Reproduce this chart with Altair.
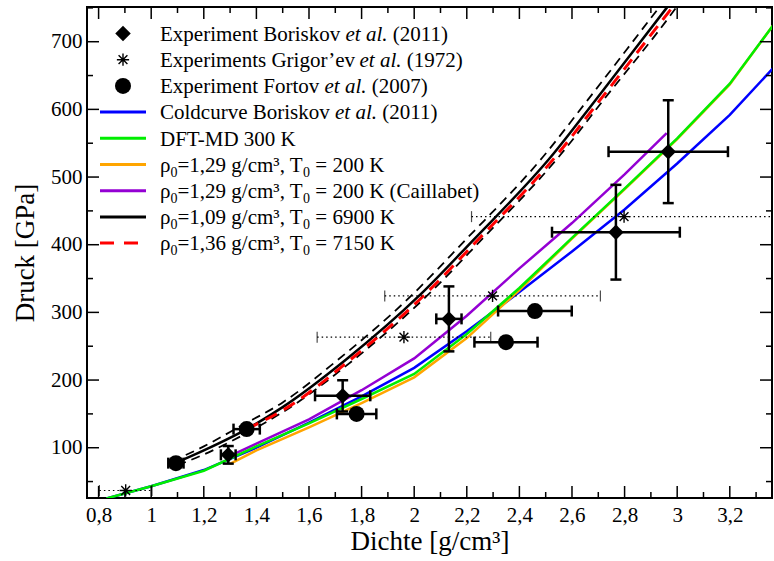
import altair as alt
import pandas as pd

FONT = "Liberation Serif"
W, H = 685, 491
X_DOMAIN = [0.7559, 3.3605]
Y_DOMAIN = [25.7, 751.3]

# ---------------- data ----------------
# Experiment Boriskov et al. (2011)
bor_x = [1.293, 1.728, 2.132, 2.767, 2.966]
bor_y = [89.5, 176.7, 290.4, 418.5, 537.5]
bor_xerr = [0.028, 0.105, 0.048, 0.243, 0.227]
bor_yerr = [13, 23, 48, 70, 76]

# Experiments Grigor'ev et al. (1972)
gri_x = [0.903, 1.961, 2.298, 2.798]
gri_y = [36.8, 263.4, 324.3, 441.5]
gri_xerr = [0.10, 0.33, 0.41, 0.58]

# Experiment Fortov et al. (2007)
fort_x = [1.094, 1.363, 1.781, 2.349, 2.459]
fort_y = [77.2, 127.5, 150.0, 256.0, 302.0]
fort_xerr = [0.029, 0.05, 0.075, 0.12, 0.14]

# Coldcurve Boriskov et al. (2011)
cold_x = [0.83, 1.0, 1.2, 1.4, 1.6, 1.8, 2.0, 2.2, 2.4, 2.6, 2.8, 3.0, 3.2, 3.37]
cold_y = [25, 43, 67, 100, 137, 176, 218, 272, 330, 390, 452, 520, 592, 663]

# DFT-MD 300 K
dft_x = [0.83, 1.0, 1.2, 1.4, 1.6, 1.8, 2.0, 2.2, 2.4, 2.6, 2.8, 3.0, 3.2, 3.37]
dft_y = [25, 43, 66, 102, 136, 172, 209, 268, 336, 410, 483, 557, 638, 727]

# rho0=1.29, T0=200 K
h129_x = [1.30, 1.4, 1.6, 1.8, 2.0, 2.2, 2.4, 2.6, 2.8, 3.0, 3.2, 3.37]
h129_y = [76, 96, 130, 166, 204, 262, 333, 409, 482, 556, 637, 727]

# rho0=1.29, T0=200 K (Caillabet)
cai_x = [1.30, 1.4, 1.6, 1.8, 2.0, 2.2, 2.4, 2.6, 2.8, 2.96]
cai_y = [88, 106, 142, 185, 232, 295, 365, 432, 504, 565]

# rho0=1.09, T0=6900 K (solid) and its two dashed bounds
h109_x = [1.09, 1.2, 1.363, 1.5, 1.74, 2.02, 2.22, 2.52, 2.69, 2.96, 3.02]
h109_y = [77, 96, 127.5, 160, 230, 325, 405, 530, 614, 750, 780]
h109u_x = [1.08, 1.2, 1.34, 1.5, 1.71, 1.99, 2.19, 2.49, 2.66, 2.93, 2.99]
h109u_y = [80, 102, 132, 167, 230, 325, 405, 530, 614, 750, 780]
h109l_x = [1.10, 1.2, 1.39, 1.53, 1.77, 2.05, 2.25, 2.55, 2.72, 2.995, 3.05]
h109l_y = [74, 90, 127.5, 160, 230, 325, 405, 530, 614, 750, 780]

# rho0=1.36, T0=7150 K
h136_x = [1.363, 1.52, 1.757, 2.037, 2.237, 2.537, 2.707, 2.98, 3.04]
h136_y = [127.5, 160, 230, 325, 405, 530, 614, 750, 780]

# ticks
x_major = [0.8, 1.0, 1.2, 1.4, 1.6, 1.8, 2.0, 2.2, 2.4, 2.6, 2.8, 3.0, 3.2]
x_minor = [0.9, 1.1, 1.3, 1.5, 1.7, 1.9, 2.1, 2.3, 2.5, 2.7, 2.9, 3.1, 3.3]
y_major = [100, 200, 300, 400, 500, 600, 700]
y_minor = [50, 150, 250, 350, 450, 550, 650, 750]

# legend texts
leg_exp = ["Experiment Boriskov", "Experiments Grigor\u2019ev", "Experiment Fortov",
           "Coldcurve Boriskov"]
leg_italic = "et al."
leg_year = ["(2011)", "(1972)", "(2007)", "(2011)"]
leg_dft = "DFT-MD 300 K"
leg_rho = ["=1,29 g/cm\u00b3, T", "=1,29 g/cm\u00b3, T", "=1,09 g/cm\u00b3, T", "=1,36 g/cm\u00b3, T"]
leg_temp = ["= 200 K", "= 200 K (Caillabet)", "= 6900 K", "= 7150 K"]

# ---------------- styling ----------------
BLUE, GREEN, ORANGE, PURPLE, RED = "#0000ff", "#00ee00", "#ffa500", "#9400d3", "#ff0000"
STAR = "M0,-1L0,1M-1,0L1,0M-0.72,-0.72L0.72,0.72M-0.72,0.72L0.72,-0.72"

xs = alt.Scale(domain=X_DOMAIN, nice=False, zero=False)
ys = alt.Scale(domain=Y_DOMAIN, nice=False, zero=False)

xaxis = alt.Axis(values=x_major, ticks=False, domain=False, grid=False, labelFlush=False,
                 labelExpr="replace(format(datum.value, '~g'), '.', ',')",
                 labelFont=FONT, labelFontSize=21, labelColor="black", labelPadding=6,
                 title="Dichte [g/cm\u00b3]", titleFont=FONT, titleFontSize=27,
                 titleFontWeight="normal", titleColor="black", titlePadding=3)
yaxis = alt.Axis(values=y_major, ticks=False, domain=False, grid=False, labelFlush=False,
                 labelFont=FONT, labelFontSize=21, labelColor="black", labelPadding=5,
                 title="Druck [GPa]", titleFont=FONT, titleFontSize=27,
                 titleFontWeight="normal", titleColor="black", titlePadding=11)


def X(f):
    return alt.X(f"{f}:Q", scale=xs, axis=xaxis)


def Y(f):
    return alt.Y(f"{f}:Q", scale=ys, axis=yaxis)


def curve(xv, yv, color, dash=None, width=2.5, interp="linear"):
    df = pd.DataFrame({"x": xv, "y": yv, "o": list(range(len(xv)))})
    kw = dict(color=color, strokeWidth=width, clip=True, interpolate=interp)
    if dash:
        kw["strokeDash"] = dash
    return alt.Chart(df).mark_line(**kw).encode(x=X("x"), y=Y("y"), order="o:Q")


layers = [
    curve(cold_x, cold_y, BLUE),
    curve(h129_x, h129_y, ORANGE),
    curve(cai_x, cai_y, PURPLE),
    curve(dft_x, dft_y, GREEN),
    curve(h109u_x, h109u_y, "black", dash=[9, 6], width=1.8, interp="monotone"),
    curve(h109l_x, h109l_y, "black", dash=[9, 6], width=1.8, interp="monotone"),
    curve(h109_x, h109_y, "black", width=2.5, interp="monotone"),
    curve(h136_x, h136_y, RED, dash=[13, 8], width=3, interp="monotone"),
]

# error bars
bor = pd.DataFrame({"x": bor_x, "y": bor_y})
bor["xlo"] = [a - b for a, b in zip(bor_x, bor_xerr)]
bor["xhi"] = [a + b for a, b in zip(bor_x, bor_xerr)]
bor["ylo"] = [a - b for a, b in zip(bor_y, bor_yerr)]
bor["yhi"] = [a + b for a, b in zip(bor_y, bor_yerr)]

fort = pd.DataFrame({"x": fort_x, "y": fort_y})
fort["xlo"] = [a - b for a, b in zip(fort_x, fort_xerr)]
fort["xhi"] = [a + b for a, b in zip(fort_x, fort_xerr)]

gri = pd.DataFrame({"x": gri_x, "y": gri_y})
gri["xlo"] = [a - b for a, b in zip(gri_x, gri_xerr)]
gri["xhi"] = [a + b for a, b in zip(gri_x, gri_xerr)]

EW = 2.5
CAP = 11
# Grigor'ev dotted bars
layers += [
    alt.Chart(gri).mark_rule(color="black", strokeWidth=1.2, strokeDash=[1.5, 3], clip=True)
    .encode(x=X("xlo"), x2="xhi", y=Y("y")),
    alt.Chart(gri).mark_tick(orient="vertical", size=CAP, thickness=1.2, color="black", clip=True)
    .encode(x=X("xlo"), y=Y("y")),
    alt.Chart(gri).mark_tick(orient="vertical", size=CAP, thickness=1.2, color="black", clip=True)
    .encode(x=X("xhi"), y=Y("y")),
]
for df, has_y in [(bor, True), (fort, False)]:
    layers += [
        alt.Chart(df).mark_rule(color="black", strokeWidth=EW).encode(x=X("xlo"), x2="xhi", y=Y("y")),
        alt.Chart(df).mark_tick(orient="vertical", size=CAP, thickness=EW, color="black", opacity=1)
        .encode(x=X("xlo"), y=Y("y")),
        alt.Chart(df).mark_tick(orient="vertical", size=CAP, thickness=EW, color="black", opacity=1)
        .encode(x=X("xhi"), y=Y("y")),
    ]
    if has_y:
        layers += [
            alt.Chart(df).mark_rule(color="black", strokeWidth=EW).encode(x=X("x"), y=Y("ylo"), y2="yhi"),
            alt.Chart(df).mark_tick(orient="horizontal", size=CAP, thickness=EW, color="black", opacity=1)
            .encode(x=X("x"), y=Y("ylo")),
            alt.Chart(df).mark_tick(orient="horizontal", size=CAP, thickness=EW, color="black", opacity=1)
            .encode(x=X("x"), y=Y("yhi")),
        ]

# markers
layers += [
    alt.Chart(bor).mark_point(shape="diamond", filled=True, size=240, color="black", opacity=1)
    .encode(x=X("x"), y=Y("y")),
    alt.Chart(fort).mark_point(shape="circle", filled=True, size=256, color="black", opacity=1)
    .encode(x=X("x"), y=Y("y")),
    alt.Chart(gri).mark_point(shape=STAR, filled=False, size=150, strokeWidth=1.4, color="black", opacity=1)
    .encode(x=X("x"), y=Y("y")),
]

# inward ticks on all four sides
for vals, ln in [(x_major, 12), (x_minor, 6)]:
    d = pd.DataFrame({"v": vals})
    layers += [
        alt.Chart(d).mark_rule(color="black", strokeWidth=1.5).encode(x=X("v"), y=alt.value(H), y2=alt.value(H - ln)),
        alt.Chart(d).mark_rule(color="black", strokeWidth=1.5).encode(x=X("v"), y=alt.value(0), y2=alt.value(ln)),
    ]
for vals, ln in [(y_major, 12), (y_minor, 6)]:
    d = pd.DataFrame({"v": vals})
    layers += [
        alt.Chart(d).mark_rule(color="black", strokeWidth=1.5).encode(y=Y("v"), x=alt.value(0), x2=alt.value(ln)),
        alt.Chart(d).mark_rule(color="black", strokeWidth=1.5).encode(y=Y("v"), x=alt.value(W), x2=alt.value(W - ln)),
    ]

# ---------------- legend (inside, top-left) ----------------
ROW0, DY = 26.5, 26.2
SYM_X, L0, L1, TXT_X = 36, 13, 59, 73
FS, SUB_FS = 21, 14
one = pd.DataFrame({"a": [0]})


def row_y(i):
    return ROW0 + DY * i


def base_y(i):
    return row_y(i) + 7.3


def txt(s, x, y, size=FS, style="normal"):
    return alt.Chart(pd.DataFrame({"t": [s]})).mark_text(
        font=FONT, fontSize=size, fontStyle=style, align="left", baseline="alphabetic",
        color="black").encode(text="t:N", x=alt.value(x), y=alt.value(y))


layers += [
    alt.Chart(one).mark_point(shape="diamond", filled=True, size=240, color="black", opacity=1)
    .encode(x=alt.value(SYM_X), y=alt.value(row_y(0))),
    alt.Chart(one).mark_point(shape=STAR, filled=False, size=150, strokeWidth=1.4, color="black", opacity=1)
    .encode(x=alt.value(SYM_X), y=alt.value(row_y(1))),
    alt.Chart(one).mark_point(shape="circle", filled=True, size=256, color="black", opacity=1)
    .encode(x=alt.value(SYM_X), y=alt.value(row_y(2))),
]
line_styles = [(BLUE, None), (GREEN, None), (ORANGE, None), (PURPLE, None), ("black", None), (RED, [14, 10])]
for k, (col, dash) in enumerate(line_styles):
    kw = dict(color=col, strokeWidth=3)
    if dash:
        kw["strokeDash"] = dash
    layers.append(alt.Chart(one).mark_rule(**kw)
                  .encode(x=alt.value(L0), x2=alt.value(L1), y=alt.value(row_y(3 + k))))

ital_x = [258.5, 272.5, 237.5, 248.0]
tail_x = [305.8, 319.7, 284.7, 295.2]
for i in range(4):
    layers += [
        txt(leg_exp[i], TXT_X, base_y(i)),
        txt(leg_italic, ital_x[i], base_y(i), style="italic"),
        txt(leg_year[i], tail_x[i], base_y(i)),
    ]
layers.append(txt(leg_dft, TXT_X, base_y(4)))

RHO_W = 10.5
SUB_W = 7.0
MID_W = 125.5
for k in range(4):
    i = 5 + k
    y = base_y(i)
    layers += [
        txt("\u03c1", TXT_X, y),
        txt("0", TXT_X + RHO_W, y + 5, size=SUB_FS),
        txt(leg_rho[k], TXT_X + RHO_W + SUB_W, y),
        txt("0", TXT_X + RHO_W + SUB_W + MID_W, y + 5, size=SUB_FS),
        txt(leg_temp[k], TXT_X + RHO_W + SUB_W + MID_W + SUB_W + 5.3, y),
    ]

chart = alt.layer(*layers).properties(
    width=W, height=H,
    autosize=alt.AutoSizeParams(type="none"),
    padding={"left": 87, "top": 7, "right": 2, "bottom": 63},
    background="white",
).configure_view(stroke="black", strokeWidth=2)

chart.save("out.html", embed_options={"renderer": "svg", "actions": False})
